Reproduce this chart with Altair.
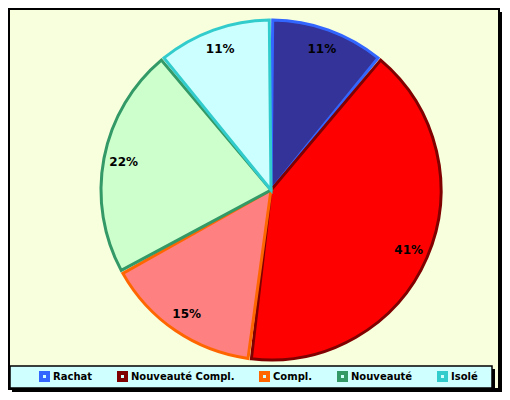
import altair as alt
import pandas as pd

categories = ["Rachat", "Nouveauté Compl.", "Compl.", "Nouveauté", "Isolé"]
values = [11, 41, 15, 22, 11]
labels = ["11%", "41%", "15%", "22%", "11%"]
fills = ["#333399", "#FF0000", "#FF8080", "#CCFFCC", "#CCFFFF"]
borders = ["#3366FF", "#800000", "#FF6600", "#339966", "#33CCCC"]

df = pd.DataFrame({
    "category": categories,
    "series": categories,
    "value": values,
    "label": labels,
    "idx": list(range(len(categories))),
})
one = pd.DataFrame({"a": [0]})

W, H = 494, 384
CX, CY, R = 263, 182, 170
FONT = "DejaVu Sans"

frame_shadow = alt.Chart(one).mark_rect(color="black").encode(
    x=alt.value(4), x2=alt.value(W), y=alt.value(4), y2=alt.value(H))
frame = alt.Chart(one).mark_rect(fill="#F7FFDC", stroke="black", strokeWidth=2).encode(
    x=alt.value(1), x2=alt.value(W - 3), y=alt.value(1), y2=alt.value(H - 3))

leg_shadow = alt.Chart(one).mark_rect(color="black").encode(
    x=alt.value(5), x2=alt.value(W - 7), y=alt.value(361), y2=alt.value(383))
leg_box = alt.Chart(one).mark_rect(fill="#D0FFFF", stroke="black", strokeWidth=1.5).encode(
    x=alt.value(2), x2=alt.value(W - 10), y=alt.value(358), y2=alt.value(380))

theta = alt.Theta("value:Q", stack=True)
order = alt.Order("idx:Q")

arcs = alt.Chart(df).mark_arc(outerRadius=R, strokeWidth=3, padAngle=0.02).encode(
    theta=theta,
    order=order,
    x=alt.value(CX),
    y=alt.value(CY),
    fill=alt.Fill("category:N", sort=categories, scale=alt.Scale(range=fills), legend=None),
    stroke=alt.Stroke(
        "series:N",
        scale=alt.Scale(domain=categories, range=borders),
        legend=alt.Legend(
            title=None,
            orient="none",
            legendX=31,
            legendY=363,
            direction="horizontal",
            gridAlign="none",
            symbolType="square",
            symbolSize=49,
            symbolStrokeWidth=4,
            symbolFillColor="#D0FFFF",
            labelFont=FONT,
            labelFontSize=10,
            labelFontWeight="bold",
            labelColor="black",
            labelOffset=3,
            columnPadding=18,
            padding=0,
        ),
    ),
)

texts = alt.Chart(df).mark_text(
    radius=150, font=FONT, fontSize=12, fontWeight="bold", color="black"
).encode(
    theta=theta,
    order=order,
    x=alt.value(CX),
    y=alt.value(CY),
    text="label:N",
)

chart = alt.layer(frame_shadow, frame, leg_shadow, leg_box, arcs, texts).properties(
    width=W,
    height=H,
    autosize=alt.AutoSizeParams(type="none"),
    padding=0,
    background="white",
).configure_view(stroke=None)

chart.save("out.html", embed_options={"renderer": "svg", "actions": False})
